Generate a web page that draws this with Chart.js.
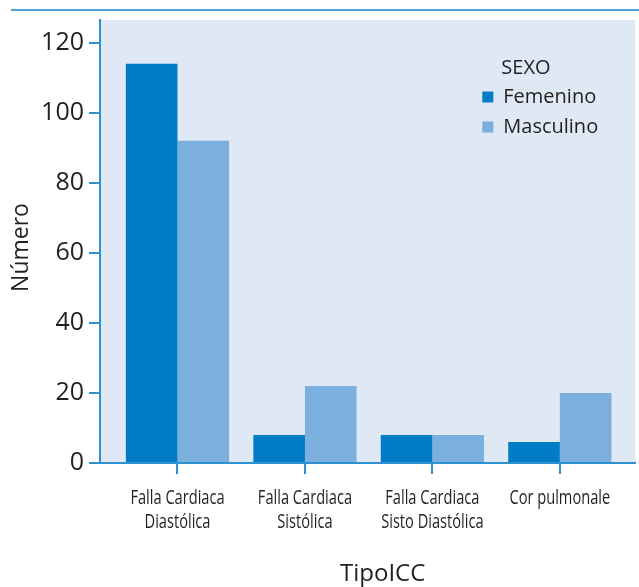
<!DOCTYPE html>
<html>
<head>
<meta charset="utf-8">
<script src="https://cdn.jsdelivr.net/npm/chart.js@4/dist/chart.umd.min.js"></script>
<style>
  html, body { margin: 0; padding: 0; background: #ffffff; }
  #wrap { width: 639px; height: 587px; position: relative; }
</style>
</head>
<body>
<div id="wrap"><canvas id="c" width="639" height="587"></canvas></div>
<script>
// ---- data ----
const categories = [
  ["Falla Cardiaca", "Diastólica"],
  ["Falla Cardiaca", "Sistólica"],
  ["Falla Cardiaca", "Sisto Diastólica"],
  ["Cor pulmonale"]
];
const seriesNames = ["Femenino", "Masculino"];
const femenino = [114, 8, 8, 6];
const masculino = [92, 22, 8, 20];
const yTickValues = [0, 20, 40, 60, 80, 100, 120];
const legendTitle = "SEXO";
const xTitle = "TipoICC";
const yTitle = "Número";

// ---- style ----
const COL_FEM = "#027cc5";
const COL_MAS = "#7bafdd";
const COL_BG = "#dfe8f5";
const COL_AXIS = "#2e91d2";
const COL_TOPLINE = "#4aa3da";
const COL_TEXT = "#231f20";
const SANS = "'Open Sans', 'Noto Sans', sans-serif";
const CONDENSE = 0.75;

// linear axis whose tick labels are set condensed (like the original's condensed face)
class CondensedLinearScale extends Chart.LinearScale {
  drawLabels(area) {
    const ctx = this.ctx;
    const orig = ctx.fillText;
    ctx.fillText = (t, x, y) => orig.call(ctx, t, x, y, ctx.measureText(t).width * CONDENSE);
    try { super.drawLabels(area); } finally { delete ctx.fillText; }
  }
  drawTitle() {
    const s = this.options.titleShift || [0, 0];
    this.ctx.save();
    this.ctx.translate(s[0], s[1]);
    super.drawTitle();
    this.ctx.restore();
  }
}
CondensedLinearScale.id = 'condensedLinear';
CondensedLinearScale.defaults = Chart.LinearScale.defaults;
Chart.register(CondensedLinearScale);

class ShiftTitleLinearScale extends Chart.LinearScale {
  drawTitle() {
    const s = this.options.titleShift || [0, 0];
    this.ctx.save();
    this.ctx.translate(s[0], s[1]);
    super.drawTitle();
    this.ctx.restore();
  }
}
ShiftTitleLinearScale.id = 'shiftTitleLinear';
ShiftTitleLinearScale.defaults = Chart.LinearScale.defaults;
Chart.register(ShiftTitleLinearScale);

const bgPlugin = {
  id: 'bg',
  beforeDraw(chart) {
    const {ctx, chartArea: a} = chart;
    ctx.save();
    ctx.fillStyle = COL_BG;
    ctx.fillRect(a.left, a.top, a.right - a.left, a.bottom - a.top);
    ctx.strokeStyle = COL_TOPLINE;
    ctx.lineWidth = 2;
    ctx.beginPath();
    ctx.moveTo(11, 10);
    ctx.lineTo(chart.width, 10);
    ctx.stroke();
    ctx.restore();
  }
};

const legendPlugin = {
  id: 'innerLegend',
  afterDatasetsDraw(chart) {
    const {ctx, chartArea: a} = chart;
    const bx = a.right - 153;
    ctx.save();
    ctx.font = "20px " + SANS;
    ctx.fillStyle = COL_TEXT;
    ctx.textBaseline = 'middle';
    ctx.textAlign = 'left';
    ctx.fillText(legendTitle, bx + 19, a.top + 48);
    chart.data.datasets.forEach((ds, i) => {
      const cy = a.top + 77 + i * 30;
      ctx.fillStyle = ds.backgroundColor;
      ctx.fillRect(bx, cy - 5.5, 11, 11);
      ctx.fillStyle = COL_TEXT;
      ctx.fillText(ds.label, bx + 21, cy);
    });
    ctx.restore();
  }
};

new Chart(document.getElementById('c'), {
  type: 'bar',
  data: {
    datasets: [
      { label: seriesNames[0], data: femenino.map((v, i) => ({x: i, y: v})), backgroundColor: COL_FEM, borderWidth: 0 },
      { label: seriesNames[1], data: masculino.map((v, i) => ({x: i, y: v})), backgroundColor: COL_MAS, borderWidth: 0 }
    ]
  },
  options: {
    responsive: false,
    animation: false,
    devicePixelRatio: 1,
    layout: { padding: { top: 19, right: 0, left: 0, bottom: 0 } },
    plugins: { legend: { display: false }, tooltip: { enabled: false } },
    datasets: { bar: { categoryPercentage: 0.81, barPercentage: 1.0 } },
    scales: {
      x: {
        type: 'condensedLinear',
        titleShift: [15, 0],
        offset: false,
        min: -0.608,
        max: 3.592,
        afterBuildTicks(axis) { axis.ticks = categories.map((c, i) => ({value: i})); },
        afterFit(scale) { scale.height = 124; },
        ticks: {
          autoSkip: false,
          maxRotation: 0,
          minRotation: 0,
          padding: 12,
          color: COL_TEXT,
          font: { family: SANS, size: 19.5, lineHeight: 1.23 },
          callback: (v) => categories[v]
        },
        grid: { offset: false, drawOnChartArea: false, drawTicks: true, tickLength: 11, color: COL_AXIS, lineWidth: 2 },
        border: { display: true, color: COL_AXIS, width: 2 },
        title: {
          display: true, text: xTitle, color: COL_TEXT,
          font: { family: SANS, size: 24, lineHeight: 1 },
          padding: { top: 0, bottom: 1 }
        }
      },
      y: {
        type: 'shiftTitleLinear',
        titleShift: [0, 6],
        min: 0,
        max: 126.5,
        afterBuildTicks(axis) { axis.ticks = yTickValues.map(v => ({value: v})); },
        afterFit(scale) { scale.width = 100; },
        ticks: {
          padding: 5,
          color: COL_TEXT,
          font: { family: SANS, size: 25 }
        },
        grid: { drawOnChartArea: false, drawTicks: true, tickLength: 11, color: COL_AXIS, lineWidth: 2 },
        border: { display: true, color: COL_AXIS, width: 2 },
        title: {
          display: true, text: yTitle, color: COL_TEXT,
          font: { family: SANS, size: 23, lineHeight: 1 },
          padding: { top: 10, bottom: 0 }
        }
      }
    }
  },
  plugins: [bgPlugin, legendPlugin]
});
</script>
</body>
</html>
